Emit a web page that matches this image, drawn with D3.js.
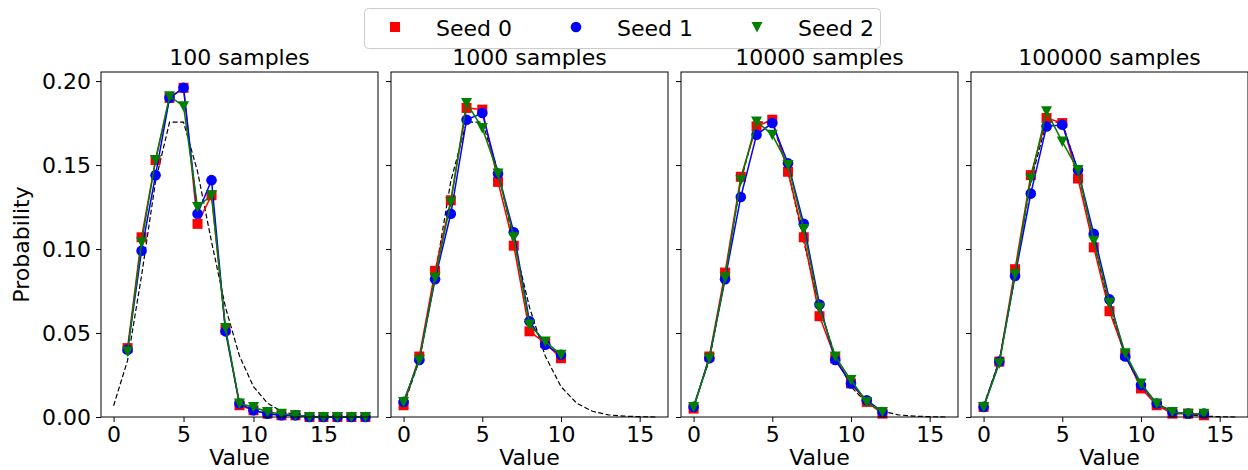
<!DOCTYPE html>
<html>
<head>
<meta charset="utf-8">
<script src="https://cdn.jsdelivr.net/npm/d3@7"></script>
<style>
  body { margin: 0; background: #fff; }
  svg { display: block; font-family: "DejaVu Sans", sans-serif; }
</style>
</head>
<body>
<div id="chart"></div>
<script>
// panel titles and legend labels
const panelTitles = ['100 samples', '1000 samples', '10000 samples', '100000 samples'];
const seedNames = ['Seed 0', 'Seed 1', 'Seed 2'];
const seedColors = ['#ff0000', '#0000ff', '#008000'];
const xTicks = [0, 5, 10, 15];
const yTicks = [0, 0.05, 0.10, 0.15, 0.20];

// reference curve (dashed)
const refX = [0, 1, 2, 3, 4, 5, 6, 7, 8, 9, 10, 11, 12, 13, 14, 15, 16];
const refP = [0.0067, 0.0337, 0.0842, 0.1404, 0.1755, 0.1755, 0.1462, 0.1044, 0.0653, 0.0363,
              0.0181, 0.0082, 0.0034, 0.0013, 0.0005, 0.0002, 0.0000];

// 100 samples
const x100 = [1, 2, 3, 4, 5, 6, 7, 8, 9, 10, 11, 12, 13, 14, 15, 16, 17, 18];
const s0_100 = [0.041, 0.107, 0.153, 0.190, 0.196, 0.115, 0.132, 0.052, 0.007, 0.004, 0.002, 0.001, 0.001, 0, 0, 0, 0, 0];
const s1_100 = [0.040, 0.099, 0.144, 0.190, 0.196, 0.121, 0.141, 0.051, 0.008, 0.004, 0.002, 0.001, 0.001, 0, 0, 0, 0, 0];
const s2_100 = [0.039, 0.104, 0.153, 0.191, 0.185, 0.125, 0.132, 0.053, 0.008, 0.006, 0.003, 0.002, 0.001, 0, 0, 0, 0, 0];

// 1000 samples
const x1000 = [0, 1, 2, 3, 4, 5, 6, 7, 8, 9, 10];
const s0_1000 = [0.007, 0.036, 0.087, 0.129, 0.184, 0.183, 0.140, 0.102, 0.051, 0.044, 0.035];
const s1_1000 = [0.009, 0.034, 0.082, 0.121, 0.177, 0.181, 0.145, 0.110, 0.057, 0.043, 0.037];
const s2_1000 = [0.009, 0.034, 0.083, 0.128, 0.187, 0.172, 0.145, 0.107, 0.055, 0.045, 0.037];

// 10000 samples
const x10000 = [0, 1, 2, 3, 4, 5, 6, 7, 8, 9, 10, 11, 12];
const s0_10000 = [0.005, 0.036, 0.086, 0.143, 0.173, 0.177, 0.146, 0.107, 0.060, 0.035, 0.020, 0.009, 0.002];
const s1_10000 = [0.006, 0.035, 0.082, 0.131, 0.168, 0.175, 0.151, 0.115, 0.067, 0.034, 0.020, 0.010, 0.003];
const s2_10000 = [0.006, 0.035, 0.083, 0.141, 0.176, 0.168, 0.150, 0.112, 0.065, 0.036, 0.022, 0.009, 0.003];

// 100000 samples
const x100000 = [0, 1, 2, 3, 4, 5, 6, 7, 8, 9, 10, 11, 12, 13, 14];
const s0_100000 = [0.006, 0.033, 0.088, 0.144, 0.178, 0.175, 0.142, 0.101, 0.063, 0.037, 0.017, 0.007, 0.002, 0.002, 0.001];
const s1_100000 = [0.006, 0.033, 0.084, 0.133, 0.173, 0.174, 0.147, 0.109, 0.070, 0.036, 0.019, 0.008, 0.003, 0.002, 0.002];
const s2_100000 = [0.006, 0.032, 0.085, 0.142, 0.182, 0.164, 0.147, 0.105, 0.068, 0.038, 0.020, 0.008, 0.003, 0.002, 0.002];

const panels = [
  { title: panelTitles[0], x: x100, seeds: [s0_100, s1_100, s2_100] },
  { title: panelTitles[1], x: x1000, seeds: [s0_1000, s1_1000, s2_1000] },
  { title: panelTitles[2], x: x10000, seeds: [s0_10000, s1_10000, s2_10000] },
  { title: panelTitles[3], x: x100000, seeds: [s0_100000, s1_100000, s2_100000] }
];

const W = 1248, H = 470;
const left0 = 101, panelW = 277, gap = 13;
const plotTop = 72, plotBottom = 417;
const fontSize = 22;

const svg = d3.select('#chart').append('svg')
  .attr('width', W).attr('height', H);

const y = d3.scaleLinear().domain([0, 0.2054]).range([plotBottom, plotTop]);

// draw a marker of a given seed at (cx, cy)
function drawMarker(g, k, cx, cy) {
  const c = seedColors[k];
  if (k === 0) {
    g.append('rect').attr('x', cx - 5).attr('y', cy - 5)
      .attr('width', 10).attr('height', 10).attr('fill', c);
  } else if (k === 1) {
    g.append('circle').attr('cx', cx).attr('cy', cy).attr('r', 5.3).attr('fill', c);
  } else {
    g.append('path')
      .attr('d', `M${cx - 5.5},${cy - 5} L${cx + 5.5},${cy - 5} L${cx},${cy + 5.5} Z`)
      .attr('fill', c);
  }
}

panels.forEach((p, i) => {
  const x0 = left0 + i * (panelW + gap);
  const xMax = d3.max(p.x.concat(refX));
  const pad = 0.05 * xMax;
  const x = d3.scaleLinear().domain([-pad, xMax + pad]).range([x0, x0 + panelW]);

  const g = svg.append('g');

  // axes
  const xAxis = g.append('g')
    .attr('transform', `translate(0,${plotBottom})`)
    .call(d3.axisBottom(x).tickValues(xTicks).tickSize(5).tickPadding(4).tickFormat(d3.format('d')));
  const yAxis = g.append('g')
    .attr('transform', `translate(${x0},0)`)
    .call(d3.axisLeft(y).tickValues(yTicks).tickSize(5).tickPadding(5).tickFormat(d3.format('.2f')));
  [xAxis, yAxis].forEach(a => {
    a.select('.domain').remove();
    a.selectAll('line').attr('stroke', '#000').attr('stroke-width', 1);
    a.selectAll('text').attr('font-size', fontSize).attr('font-family', 'DejaVu Sans').attr('fill', '#000');
  });
  if (i > 0) yAxis.selectAll('text').remove();

  // dashed reference curve
  const line = d3.line().x(d => x(d[0])).y(d => y(d[1]));
  g.append('path')
    .datum(refX.map((v, j) => [v, refP[j]]))
    .attr('d', line)
    .attr('fill', 'none')
    .attr('stroke', '#000')
    .attr('stroke-width', 1.2)
    .attr('stroke-dasharray', '5,2.5');

  // seed series
  p.seeds.forEach((vals, k) => {
    const pts = p.x.map((v, j) => [v, vals[j]]);
    g.append('path')
      .datum(pts)
      .attr('d', line)
      .attr('fill', 'none')
      .attr('stroke', seedColors[k])
      .attr('stroke-width', 1.5);
    pts.forEach(d => drawMarker(g, k, x(d[0]), y(d[1])));
  });

  // frame
  g.append('rect')
    .attr('x', x0).attr('y', plotTop)
    .attr('width', panelW).attr('height', plotBottom - plotTop)
    .attr('fill', 'none').attr('stroke', '#000').attr('stroke-width', 1);

  // title and x label
  g.append('text')
    .attr('x', x0 + panelW / 2).attr('y', 65)
    .attr('text-anchor', 'middle').attr('font-size', fontSize)
    .text(p.title);
  g.append('text')
    .attr('x', x0 + panelW / 2).attr('y', 465)
    .attr('text-anchor', 'middle').attr('font-size', fontSize)
    .text('Value');
});

// y label
svg.append('text')
  .attr('transform', `translate(29,${(plotTop + plotBottom) / 2}) rotate(-90)`)
  .attr('text-anchor', 'middle').attr('font-size', fontSize)
  .text('Probability');

// legend
const legend = svg.append('g');
legend.append('rect')
  .attr('x', 364.5).attr('y', 8.5).attr('width', 516).attr('height', 40)
  .attr('rx', 4).attr('fill', '#fff').attr('fill-opacity', 0.8)
  .attr('stroke', '#cccccc').attr('stroke-width', 1);
const legendX = [395, 576, 757];
seedNames.forEach((name, k) => {
  drawMarker(legend, k, legendX[k], 27);
  legend.append('text')
    .attr('x', legendX[k] + 41).attr('y', 35.5)
    .attr('font-size', fontSize)
    .text(name);
});
</script>
</body>
</html>
